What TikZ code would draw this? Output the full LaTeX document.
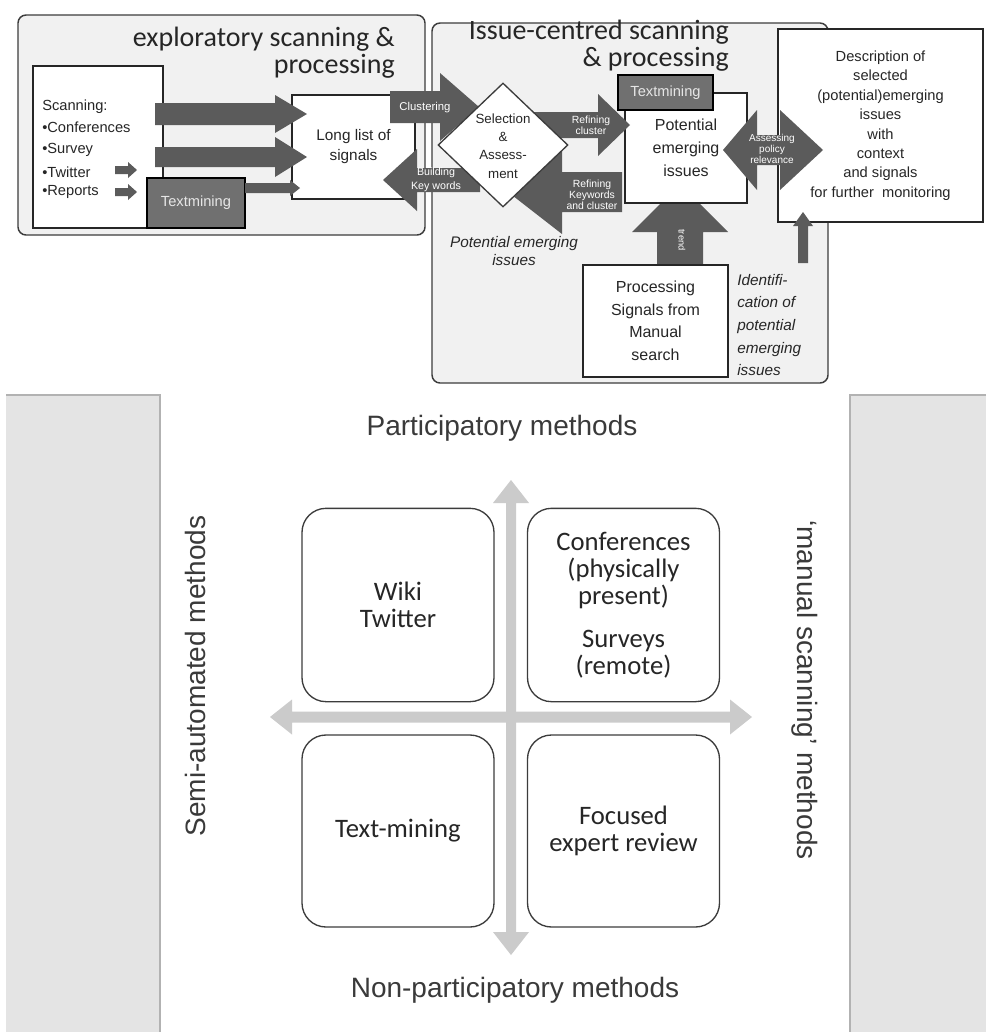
\documentclass[tikz,border=0pt]{standalone}
\usepackage{fontspec}
\setmainfont{Liberation Sans}
\newfontfamily\calfont{Carlito}
\usetikzlibrary{shapes.geometric}
\definecolor{panelfill}{HTML}{F1F1F1}
\definecolor{edgecol}{HTML}{3C3C3C}
\definecolor{darkarr}{HTML}{5B5B5B}
\definecolor{tmfill}{HTML}{707070}
\definecolor{tmtext}{HTML}{E6E6E6}
\definecolor{lightarr}{HTML}{CBCBCB}
\definecolor{sidefill}{HTML}{E4E4E4}
\definecolor{sideedge}{HTML}{B2B2B2}
\definecolor{txt}{HTML}{262626}
\definecolor{axtxt}{HTML}{3A3A3A}
% block arrows: color, tail, tip, axis pos, shaft half, head half, head length (signed)
\newcommand{\blockH}[7]{\fill[#1] (#2,{#4-#5}) -- ({#3-(#7)},{#4-#5}) -- ({#3-(#7)},{#4-#6}) -- (#3,#4) -- ({#3-(#7)},{#4+#6}) -- ({#3-(#7)},{#4+#5}) -- (#2,{#4+#5}) -- cycle;}
\newcommand{\blockV}[7]{\fill[#1] ({#4-#5},#2) -- ({#4-#5},{#3-(#7)}) -- ({#4-#6},{#3-(#7)}) -- (#4,#3) -- ({#4+#6},{#3-(#7)}) -- ({#4+#5},{#3-(#7)}) -- ({#4+#5},#2) -- cycle;}
% double arrows: color, first tip, second tip, axis pos, shaft half, head half, head length
\newcommand{\blockHH}[7]{\fill[#1] (#2,#4) -- ({#2+#7},{#4-#6}) -- ({#2+#7},{#4-#5}) -- ({#3-#7},{#4-#5}) -- ({#3-#7},{#4-#6}) -- (#3,#4) -- ({#3-#7},{#4+#6}) -- ({#3-#7},{#4+#5}) -- ({#2+#7},{#4+#5}) -- ({#2+#7},{#4+#6}) -- cycle;}
\newcommand{\blockVV}[7]{\fill[#1] (#4,#2) -- ({#4-#6},{#2+#7}) -- ({#4-#5},{#2+#7}) -- ({#4-#5},{#3-#7}) -- ({#4-#6},{#3-#7}) -- (#4,#3) -- ({#4+#6},{#3-#7}) -- ({#4+#5},{#3-#7}) -- ({#4+#5},{#2+#7}) -- ({#4+#6},{#2+#7}) -- cycle;}
\begin{document}
\begin{tikzpicture}[x=0.75pt,y=-0.75pt,
  panel/.style={draw=edgecol, fill=panelfill, line width=1.1pt, rounded corners=6pt, inner sep=0pt},
  wbox/.style={draw=black!85, fill=white, line width=1.1pt, inner sep=0pt, align=center, text=txt},
  tmbox/.style={draw=black, fill=tmfill, line width=1.1pt, inner sep=0pt, text=tmtext, font=\fontsize{11}{13}\selectfont},
  title/.style={inner sep=0pt, text=txt, font=\calfont\fontsize{21}{20}\selectfont},
  small/.style={inner sep=0pt, text=txt, font=\fontsize{11}{13}\selectfont},
  arrlab/.style={inner sep=0pt, text=white, align=center, font=\fontsize{8}{8.5}\selectfont},
  itlab/.style={inner sep=0pt, text=txt, font=\itshape\fontsize{11.5}{13.5}\selectfont},
  quad/.style={draw=edgecol, fill=white, line width=1pt, rounded corners=18pt, inner sep=0pt, align=center, text=txt, font=\calfont\fontsize{20}{20.25}\selectfont, minimum width=144pt, minimum height=145pt},
  axis/.style={inner sep=0pt, text=axtxt, font=\fontsize{21}{24}\selectfont}]
\useasboundingbox (0,0) rectangle (986,1032);
\fill[white] (0,0) rectangle (986,1032);
%================ top part
\node[panel, minimum width=305.25pt, minimum height=165pt] (expl) at (221.5,125) {};
\node[panel, minimum width=297pt, minimum height=270pt] (issue) at (630,203) {};
\node[title, anchor=east, align=right] (explT) at (395,53) {exploratory scanning \&\\processing};
\node[title, anchor=east, align=right] (issueT) at (729,46) {Issue-centred scanning\\\& processing};
% scanning box
\node[wbox, minimum width=97.5pt, minimum height=121.5pt] (scan) at (98,147) {};
\node[small, anchor=west] (s0) at (42,107) {Scanning:};
\node[small, anchor=west] (s1) at (42,127) {•Conferences};
\node[small, anchor=west] (s2) at (42,150) {•Survey};
\node[small, anchor=west] (s3) at (42,172) {•Twitter};
\node[small, anchor=west] (s4) at (42,192) {•Reports};
% long list
\node[wbox, minimum width=92.25pt, minimum height=78pt, font=\fontsize{11.5}{15}\selectfont] (long) at (353.5,147) {Long list of\\signals};
\blockH{darkarr}{155}{307}{114}{11}{19}{32}
\blockH{darkarr}{155}{307}{157}{10}{20}{32}
\blockH{darkarr}{115}{137}{170}{4}{8}{9}
\blockH{darkarr}{115}{137}{192}{4}{8}{9}
\node[tmbox, minimum width=73.5pt, minimum height=37.5pt] (tm1) at (196,203) {Textmining};
\blockH{darkarr}{245}{300}{188}{5}{8}{10}
% trend arrow and potential box
\blockV{darkarr}{265}{184}{680}{23}{48}{-48}
\node[arrlab, rotate=-90, font=\fontsize{7}{7}\selectfont] (trendT) at (682,240) {trend};
\node[wbox, minimum width=91.5pt, minimum height=82.5pt, font=\fontsize{12}{17.2}\selectfont] (pot) at (686,148) {Potential\\emerging\\issues};
\node[tmbox, minimum width=71.25pt, minimum height=26.25pt] (tm2) at (665.5,92.5) {Textmining};
% middle arrows, under the diamond
\blockH{darkarr}{520}{630}{125}{13}{31}{32}
\blockH{darkarr}{622}{508}{192}{20}{42}{-54}
\blockH{darkarr}{390}{479}{107}{16}{34}{39}
\blockH{darkarr}{480}{383}{180}{12}{31}{-34}
\node[diamond, draw=edgecol, fill=white, line width=1pt, minimum width=97.5pt, minimum height=93pt, inner sep=0pt] (sel) at (503,145) {};
\node[inner sep=0pt, align=center, text=txt, font=\fontsize{10}{13.7}\selectfont] (selT) at (503,146) {Selection\\\&\\Assess-\\ment};
\node[arrlab, font=\fontsize{8.5}{9}\selectfont] (clusT) at (425,108) {Clustering};
\node[arrlab, font=\fontsize{8}{10.5}\selectfont] (buildT) at (436,180) {Building\\Key words};
\node[arrlab, font=\fontsize{7.8}{8.2}\selectfont] (refkT) at (592,195) {Refining\\Keywords\\and cluster};
\node[arrlab, font=\fontsize{7.8}{8}\selectfont] (refcT) at (591,125) {Refining\\cluster};
% processing box
\node[wbox, minimum width=108.75pt, minimum height=84pt, font=\fontsize{12}{16.9}\selectfont] (proc) at (655.5,321) {Processing\\Signals from\\Manual\\search};
% description box
\node[wbox, minimum width=153.75pt, minimum height=144.75pt, font=\fontsize{11}{14.6}\selectfont] (desc) at (880.5,125.5) {Description of\\selected\\(potential)emerging\\issues\\with\\context\\and signals\\for further\ \ monitoring};
\fill[darkarr] (723,150) -- (757,110) -- (757,135) -- (780,135) -- (780,110) -- (823,150) -- (780,190) -- (780,165) -- (757,165) -- (757,190) -- cycle;
\node[arrlab, font=\fontsize{7.5}{8.2}\selectfont] (assT) at (772,149) {Assessing\\policy\\relevance};
\blockV{darkarr}{263}{212}{803}{5}{10}{-14}
% italic labels
\node[itlab, align=center] (peiT) at (514,251) {Potential emerging\\issues};
\node[itlab, align=left, anchor=west, font=\itshape\fontsize{11.5}{16.9}\selectfont] (idT) at (737,325) {Identifi-\\cation of\\potential\\emerging\\issues};
%================ bottom part
\fill[sidefill] (6,395) rectangle (160,1032);
\draw[sideedge, line width=0.8pt] (6,395) -- (160,395) -- (160,1032);
\fill[sidefill] (850,395) rectangle (986,1032);
\draw[sideedge, line width=0.8pt] (986,395) -- (850,395) -- (850,1032);
\blockVV{lightarr}{480}{955}{511}{5}{18}{23}
\blockHH{lightarr}{270}{752}{717}{5.5}{17.5}{22}
\node[quad] (wiki) at (398,605) {Wiki\\Twitter};
\node[quad] (conf) at (623.5,605) {Conferences\\(physically\\present)\\[12pt]Surveys\\(remote)};
\node[quad, minimum height=144pt] (tmq) at (398,831) {Text-mining};
\node[quad, minimum height=144pt] (fer) at (623.5,831) {Focused\\expert review};
\node[axis] (part) at (502,428) {Participatory methods};
\node[axis] (nonpart) at (515,990) {Non-participatory methods};
\node[axis, rotate=90] (semi) at (195,676) {Semi-automated methods};
\node[axis, rotate=-90] (manual) at (805,690) {‘manual scanning’ methods};
\end{tikzpicture}
\end{document}
